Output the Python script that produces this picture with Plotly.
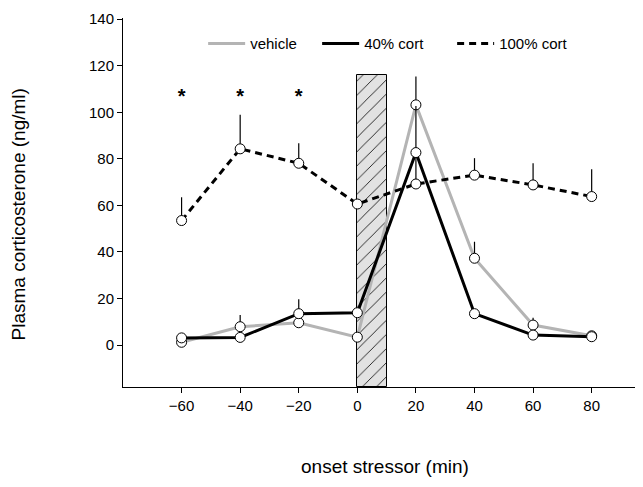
import plotly.graph_objects as go

times = [-60, -40, -20, 0, 20, 40, 60, 80]
vehicle = [1.2, 7.9, 9.6, 3.4, 103.2, 37.3, 8.6, 4.0]
vehicle_err = [0, 5.0, 0, 0, 12.2, 7.1, 3.1, 0]
cort40 = [3.1, 3.3, 13.5, 13.9, 82.7, 13.5, 4.3, 3.6]
cort40_err = [0, 0, 6.2, 0, 20.0, 2.0, 0, 0]
cort100 = [53.5, 84.3, 78.1, 60.6, 69.2, 73.0, 68.8, 63.8]
cort100_err = [10.0, 14.6, 8.6, 0, 13.5, 7.3, 9.3, 11.7]
star_times = [-60, -40, -20]
star_level = [106, 106, 106]
stress_start, stress_end, stress_top, y_floor = 0, 10, 116, -18
x_tick_vals = [-60, -40, -20, 0, 20, 40, 60, 80]
y_tick_vals = [0, 20, 40, 60, 80, 100, 120, 140]

gray = "#b4b4b4"
font = "Liberation Sans, Arial, sans-serif"

fig = go.Figure()

fig.add_trace(go.Bar(
    x=[(stress_start + stress_end) / 2], y=[stress_top - y_floor], base=[y_floor],
    width=[stress_end - stress_start], showlegend=False, hoverinfo="skip",
    marker=dict(color="#e2e2e2", line=dict(color="black", width=1),
                pattern=dict(shape="/", fgcolor="black", bgcolor="#e2e2e2",
                             size=10, solidity=0.08, fillmode="replace")),
))

fig.add_trace(go.Scatter(x=times, y=vehicle, mode="lines", name="vehicle",
                         legendwidth=62, line=dict(color=gray, width=3)))
fig.add_trace(go.Scatter(x=times, y=cort40, mode="lines", name="40% cort",
                         legendwidth=83, line=dict(color="black", width=3)))
fig.add_trace(go.Scatter(x=times, y=cort100, mode="lines", name="100% cort",
                         line=dict(color="black", width=3, dash="7px,5px")))

for vals, errs in [(cort100, cort100_err), (vehicle, vehicle_err), (cort40, cort40_err)]:
    fig.add_trace(go.Scatter(
        x=times, y=vals, mode="markers", showlegend=False,
        marker=dict(symbol="circle", size=10, color="white",
                    line=dict(color="black", width=1)),
        error_y=dict(type="data", array=errs, arrayminus=[0] * len(errs),
                     symmetric=False, thickness=1.2, width=0, color="black"),
    ))

fig.add_trace(go.Scatter(x=star_times, y=star_level, mode="text", text=["<b>*</b>"] * 3,
                         textfont=dict(size=20, color="black", family=font),
                         showlegend=False))

fig.update_layout(
    width=635, height=479,
    margin=dict(l=115, r=3, t=10, b=100),
    plot_bgcolor="white", paper_bgcolor="white",
    font=dict(family=font, size=15, color="black"),
    bargap=0,
    legend=dict(orientation="h", x=0.155, y=0.93, xanchor="left", yanchor="middle",
                font=dict(size=15, family=font), bgcolor="rgba(0,0,0,0)",
                itemwidth=37, tracegroupgap=0),
    xaxis=dict(range=[-80, 96.5], tickvals=x_tick_vals,
               ticks="outside", ticklen=5, tickwidth=1, tickcolor="black",
               tickfont=dict(size=15),
               showline=True, linecolor="black", linewidth=1, showgrid=False,
               zeroline=False),
    yaxis=dict(range=[-18, 140.5], tickvals=y_tick_vals,
               ticks="outside", ticklen=5, tickwidth=1, tickcolor="black",
               tickfont=dict(size=15),
               showline=True, linecolor="black", linewidth=1, showgrid=False,
               zeroline=False),
    annotations=[
        dict(text="Plasma corticosterone (ng/ml)", xref="paper", yref="paper",
             x=0, y=0.5, xshift=-105, yshift=-12, textangle=-90, showarrow=False,
             xanchor="center", yanchor="middle", font=dict(size=19, family=font)),
        dict(text="onset stressor (min)", xref="paper", yref="paper",
             x=0.507, y=0, yshift=-79, showarrow=False,
             xanchor="center", yanchor="middle", font=dict(size=19, family=font)),
    ],
)

fig.write_html("out.html")
